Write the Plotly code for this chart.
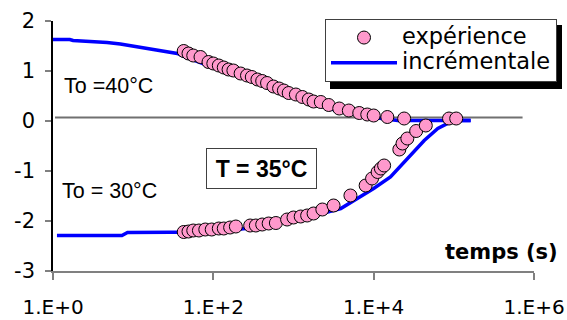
import plotly.graph_objects as go

# ---- data (time in s, value) ----
exp_up_t = [42.7, 49, 56.2, 69.2, 87.1, 100, 117, 135, 155, 178, 219, 263, 302, 355, 407, 468,
            562, 661, 759, 871, 1070, 1290, 1550, 1780, 2190, 2750, 3720, 4900, 6610, 8320,
            10000, 14800, 24000, 87100, 107000]
exp_up_v = [1.40, 1.35, 1.31, 1.28, 1.18, 1.15, 1.11, 1.07, 1.03, 1.01, 0.95, 0.91, 0.88, 0.83,
            0.80, 0.76, 0.69, 0.65, 0.61, 0.56, 0.53, 0.48, 0.43, 0.39, 0.38, 0.32, 0.25, 0.21,
            0.16, 0.13, 0.11, 0.08, 0.05, 0.05, 0.05]

exp_lo_t = [42.7, 49, 56.2, 66.1, 79.4, 95.5, 117, 135, 162, 191, 288, 339, 407, 490, 603, 832,
            1000, 1230, 1480, 1780, 2290, 3160, 5130, 7940, 9550, 11200, 12300, 13500, 20900,
            22900, 26300, 33900, 44700]
exp_lo_v = [-2.22, -2.21, -2.19, -2.19, -2.17, -2.17, -2.15, -2.15, -2.13, -2.11, -2.09, -2.09,
            -2.07, -2.05, -2.04, -1.97, -1.93, -1.91, -1.89, -1.85, -1.77, -1.69, -1.49, -1.29,
            -1.15, -1.02, -0.95, -0.89, -0.57, -0.45, -0.35, -0.20, -0.09]

inc_up_t = [1, 1.62, 1.78, 3.16, 4.73, 6.92, 10, 15, 21.9, 35.5, 42.2, 100, 355, 1230, 3630,
            10000, 20000, 162000]
inc_up_v = [1.63, 1.63, 1.61, 1.59, 1.57, 1.54, 1.50, 1.46, 1.41, 1.35, 1.30, 1.07, 0.76, 0.42,
            0.20, 0.07, 0.01, 0.01]

inc_lo_t = [1.12, 7.24, 8.5, 39.8, 100, 288, 1230, 3890, 6310, 10000, 16200, 26300, 42700,
            63100, 91200, 107000, 162000]
inc_lo_v = [-2.29, -2.29, -2.23, -2.23, -2.22, -2.14, -1.96, -1.75, -1.55, -1.35, -1.12, -0.75,
            -0.39, -0.15, -0.02, 0.01, 0.01]

ref_t = [1.06, 720000]
ref_v = [0.07, 0.07]

x_tickvals = [1, 100, 10000, 1000000]
x_ticktext = ["1.E+0", "1.E+2", "1.E+4", "1.E+6"]
y_tickvals = [-3, -2, -1, 0, 1, 2]
y_ticktext = ["-3", "-2", "-1", "0", "1", "2"]

ARIAL = "Liberation Sans, Arial, sans-serif"
WIDE = "DejaVu Sans, Verdana, sans-serif"

PW, PH = 481, 250  # plot area size in px

fig = go.Figure()

fig.add_trace(go.Scatter(x=ref_t, y=ref_v, mode="lines", line=dict(color="#707070", width=2),
                         showlegend=False, hoverinfo="skip"))

fig.add_trace(go.Scatter(x=inc_up_t + [None] + inc_lo_t, y=inc_up_v + [None] + inc_lo_v,
                         mode="lines",
                         name='<span style="font-size:22.5px">incrémentale</span>',
                         connectgaps=False,
                         line=dict(color="#0000FF", width=3.5), legendrank=2))

fig.add_trace(go.Scatter(x=exp_up_t + exp_lo_t, y=exp_up_v + exp_lo_v, mode="markers",
                         name='<span style="font-size:22.5px">expérience</span>',
                         marker=dict(symbol="circle", size=13, color="#FF99CC",
                                     line=dict(color="black", width=1)),
                         legendrank=1))

fig.update_layout(
    width=567, height=320,
    margin=dict(l=53, r=33, t=21, b=49, autoexpand=False),
    paper_bgcolor="white", plot_bgcolor="white",
    font=dict(family=ARIAL, color="black"),
    xaxis=dict(type="log", range=[0, 6], tickvals=x_tickvals, ticktext=x_ticktext,
               automargin=False,
               showgrid=False, zeroline=False, showline=True, linecolor="#808080", linewidth=1.5,
               ticks="outside", ticklen=7, tickcolor="#808080", tickwidth=1.5,
               tickfont=dict(size=20, family=WIDE), ticklabelstandoff=10),
    yaxis=dict(range=[-3, 2], tickvals=y_tickvals, ticktext=y_ticktext, automargin=False,
               showgrid=False, zeroline=False,
               showline=True, linecolor="black", linewidth=1.5,
               ticks="outside", ticklen=6, tickcolor="#808080", tickwidth=1.5,
               tickfont=dict(size=21, family=WIDE), ticklabelstandoff=6),
    legend=dict(x=(325 - 53) / PW, y=(271 - 19) / PH, xanchor="left", yanchor="top",
                bgcolor="white", bordercolor="#404040", borderwidth=1,
                font=dict(size=17, family=WIDE, color="black"), itemwidth=66,
                tracegroupgap=0),
    shapes=[dict(type="rect", xref="paper", yref="paper",
                 x0=(330 - 53) / PW, x1=(562 - 53) / PW,
                 y0=(271 - 89) / PH, y1=(271 - 25) / PH,
                 fillcolor="black", line=dict(width=0), layer="above")],
    annotations=[
        dict(text="To =40°C", x=0.11, y=0.71, xref="x", yref="y", xanchor="left",
             yanchor="middle", showarrow=False, font=dict(size=21.5, family=ARIAL)),
        dict(text="To = 30°C", x=0.09, y=-1.40, xref="x", yref="y", xanchor="left",
             yanchor="middle", showarrow=False, font=dict(size=21.5, family=ARIAL)),
        dict(text="<b>T = 35°C</b>", x=2.6, y=-0.956, xref="x", yref="y", xanchor="center",
             yanchor="middle", showarrow=False, font=dict(size=23, family=ARIAL),
             bordercolor="#404040", borderwidth=1, borderpad=0, width=109, height=39,
             bgcolor="white"),
        dict(text="<b>temps (s)</b>", x=(560 - 53) / PW, y=(271 - 252) / PH, xref="paper",
             yref="paper", xanchor="right", yanchor="middle", showarrow=False,
             font=dict(size=21, family=WIDE)),
    ],
)

fig.write_html("out.html",
               config={"displayModeBar": False},
               post_script="document.body.style.margin='0px';"
                           "document.body.style.overflow='hidden';")
